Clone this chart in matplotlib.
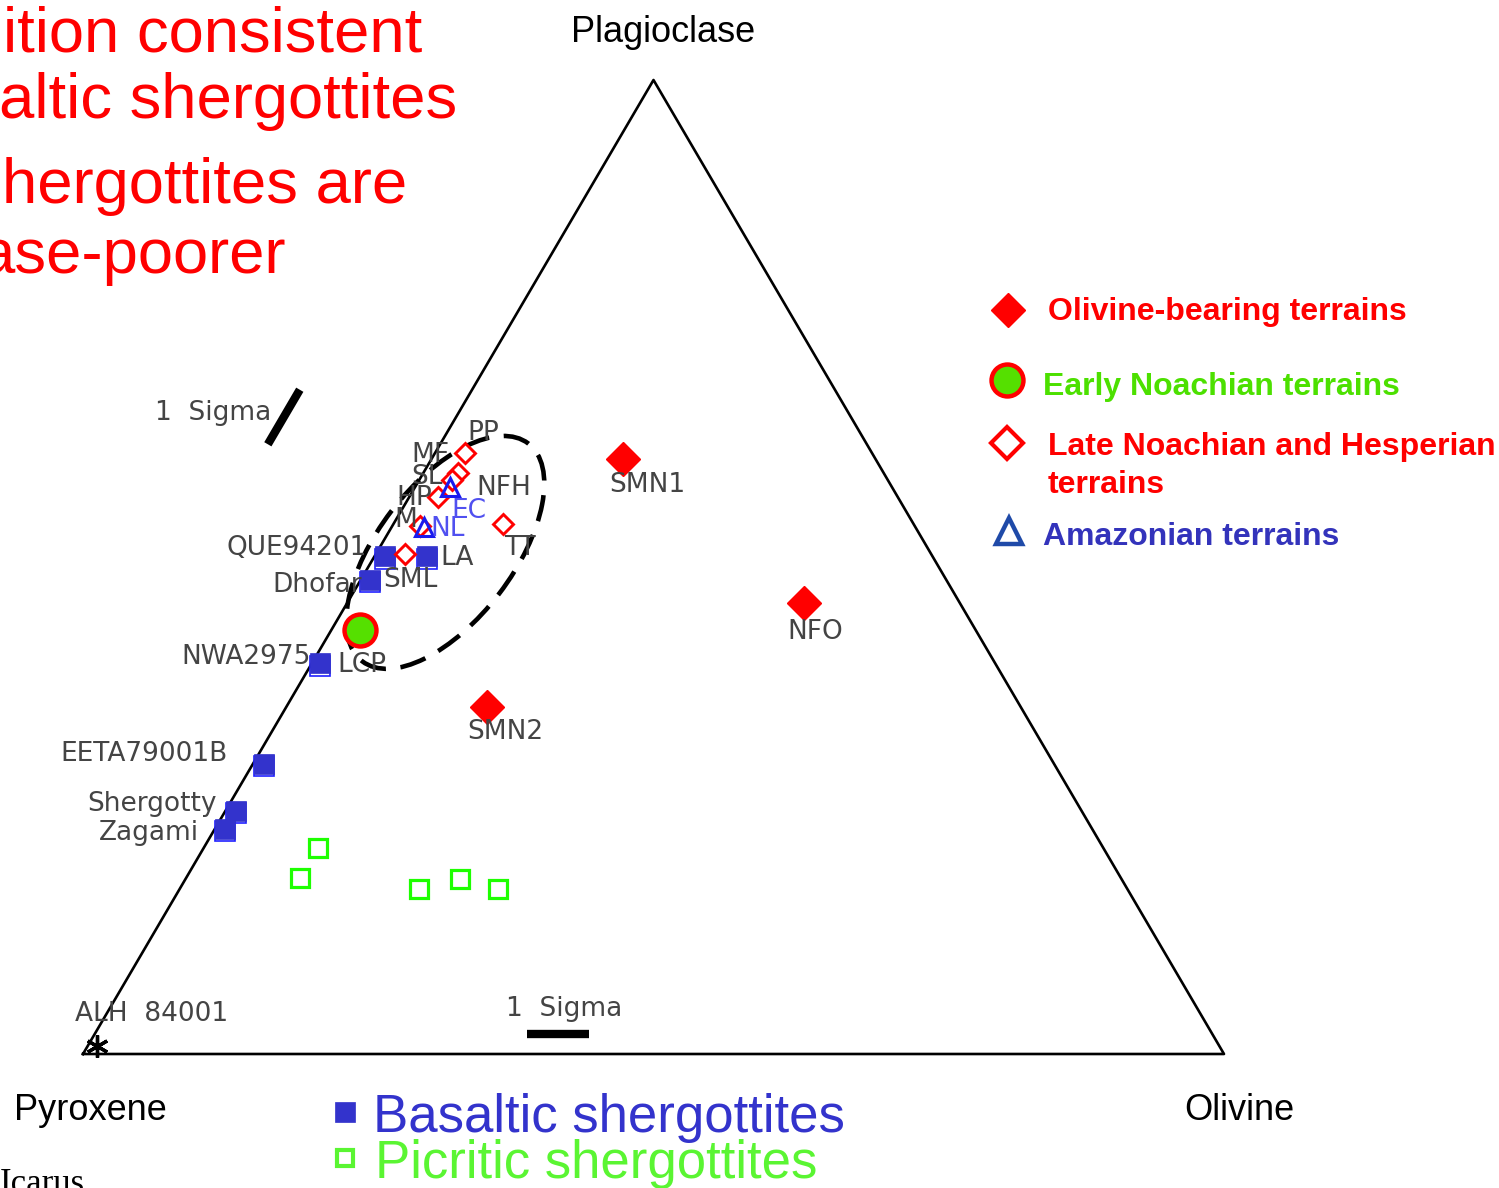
import numpy as np
import matplotlib.pyplot as plt
from matplotlib.lines import Line2D
from matplotlib.patches import Ellipse

W, H = 1499, 1188
TRI_H = 974 / 1141  # height of the drawn triangle relative to its base

# modal mineralogy as fractions of plagioclase and olivine (pyroxene = the rest)
basaltic_names = ['QUE94201', 'LA', 'Dhofar', 'NWA2975', 'EETA79001B', 'Shergotty', 'Zagami']
basaltic_pl = [0.511, 0.511, 0.487, 0.401, 0.298, 0.250, 0.231]
basaltic_ol = [0.009, 0.046, 0.008, 0.007, 0.010, 0.009, 0.009]

picritic_pl = [0.212, 0.181, 0.169, 0.180, 0.169]
picritic_ol = [0.100, 0.100, 0.210, 0.240, 0.279]

olivine_names = ['SMN1', 'NFO', 'SMN2']
olivine_pl = [0.611, 0.463, 0.356]
olivine_ol = [0.168, 0.400, 0.176]

early_pl = [0.435]
early_ol = [0.025]

late_names = ['PP', 'MF', 'SL', 'HP', 'M', 'SML', 'TT']
late_pl = [0.617, 0.597, 0.589, 0.572, 0.542, 0.513, 0.544]
late_ol = [0.026, 0.030, 0.029, 0.025, 0.024, 0.026, 0.096]

amazon_names = ['EC', 'NL']
amazon_pl = [0.582, 0.541]
amazon_ol = [0.031, 0.028]

alh_pl = [0.008]
alh_ol = [0.008]

# one-sigma uncertainty along the plagioclase and olivine directions
sigma_pl = 0.056
sigma_ol = 0.054

# spread of the terrain compositions
ell_pl, ell_ol = 0.515, 0.060
ell_major, ell_minor, ell_tilt = 0.240, 0.119, 52.7

# statement lines at the top left (the slide crops them on the left)
head_lines = ['ition consistent', 'altic shergottites', 'hergottites are', 'ase-poorer']


def tern(pl, ol):
    pl = np.asarray(pl, float)
    ol = np.asarray(ol, float)
    return ol + 0.5 * pl, pl * TRI_H


fig = plt.figure(figsize=(W / 100, H / 100), dpi=100)
ax = fig.add_axes([83 / W, (H - 1054) / H, 1141 / W, 974 / H])
ax.set_xlim(0, 1)
ax.set_ylim(0, TRI_H)
ax.axis('off')


def ftext(x, y, s, **kw):
    fig.text(x / W, 1 - y / H, s, **kw)


def fmark(x, y, **kw):
    fig.add_artist(Line2D([x / W], [1 - y / H], transform=fig.transFigure, **kw))


# triangle
cx, cy = tern([0, 0, 1, 0], [0, 1, 0, 0])
ax.plot(cx, cy, color='black', lw=1.9, clip_on=False, zorder=2)

# dashed envelope of the terrain points
ex, ey = tern(ell_pl, ell_ol)
ax.add_patch(Ellipse((ex, ey), ell_major, ell_minor, angle=ell_tilt, fill=False,
                     ec='black', lw=3.3, ls=(0, (5.8, 3.2)), zorder=3, clip_on=False))

# one-sigma bars
sx, sy = tern([0.626, 0.626 + sigma_pl], [-0.151, -0.151])
ax.plot(sx, sy, color='black', lw=6, solid_capstyle='butt', clip_on=False)
sx, sy = tern([0.0205, 0.0205], [0.379, 0.379 + sigma_ol])
ax.plot(sx, sy, color='black', lw=6, solid_capstyle='butt', clip_on=False)

# picritic shergottites
x, y = tern(picritic_pl, picritic_ol)
ax.plot(x, y, 's', ms=13, mfc='none', mec='#1EFF00', mew=2.3, ls='none', zorder=4)

# basaltic shergottites
x, y = tern(basaltic_pl, basaltic_ol)
ax.plot(x, y - 0.002, 's', ms=15, mfc='none', mec='#2020FF', mew=1.2, ls='none', zorder=4)
ax.plot(x, y, 's', ms=15, mfc='#3333CC', mec='#3333CC', mew=0.5, ls='none', zorder=5)

# ALH 84001
x, y = tern(alh_pl, alh_ol)
ax.plot(x, y, marker=(6, 2, 0), ms=16, mec='black', mew=2.4, ls='none', zorder=5, clip_on=False)

# late Noachian / Hesperian terrains
x, y = tern(late_pl, late_ol)
ax.plot(x, y, 'D', ms=10, mfc='white', mec='#FF0000', mew=2.1, ls='none', zorder=6)

# Amazonian terrains
x, y = tern(amazon_pl, amazon_ol)
ax.plot(x, y, '^', ms=13, mfc='none', mec='#1A1AEE', mew=2.2, ls='none', zorder=7)

# early Noachian terrains
x, y = tern(early_pl, early_ol)
ax.plot(x, y, 'o', ms=23, mfc='#55E000', mec='#FF0000', mew=3.2, ls='none', zorder=6)

# olivine-bearing terrains
x, y = tern(olivine_pl, olivine_ol)
ax.plot(x, y, 'D', ms=17, mfc='#FF0000', mec='#FF0000', mew=1, ls='none', zorder=6)

# point labels
lab = dict(fontsize=19, color='#444444', family='DejaVu Sans', va='center', zorder=8)
blue_lab = dict(lab, color='#5050F0')
for s, xp, yp, ha in [('PP', 467, 433, 'left'), ('MF', 411, 455, 'left'),
                      ('SL', 411, 477, 'left'), ('HP', 396, 498, 'left'),
                      ('M', 394, 520, 'left'), ('NFH', 476, 488, 'left'),
                      ('TT', 504, 548, 'left'), ('LA', 440, 558, 'left'),
                      ('SML', 383, 580, 'left'), ('LCP', 337, 665, 'left'),
                      ('QUE94201', 367, 548, 'right'), ('Dhofar', 362, 585, 'right'),
                      ('NWA2975', 311, 657, 'right'), ('SMN1', 609, 485, 'left'),
                      ('NFO', 787, 632, 'left'), ('SMN2', 467, 732, 'left'),
                      ('EETA79001B', 228, 754, 'right'), ('Shergotty', 217, 804, 'right'),
                      ('Zagami', 199, 833, 'right'), ('ALH  84001', 75, 1014, 'left'),
                      ('1  Sigma', 155, 413, 'left'), ('1  Sigma', 506, 1009, 'left')]:
    ftext(xp, yp, s, ha=ha, **lab)
ftext(451, 511, 'EC', ha='left', **blue_lab)
ftext(430, 529, 'NL', ha='left', **blue_lab)

# apex names
apex = dict(fontsize=26, color='black', family='Liberation Sans', va='baseline')
ftext(663, 42, 'Plagioclase', ha='center', **apex)
ftext(90, 1120, 'Pyroxene', ha='center', **apex)
ftext(1239, 1120, 'Olivine', ha='center', **apex)

# statement text at the top left
head = dict(fontsize=45.6, color='#FF0000', family='Liberation Sans', va='baseline', ha='right')
for s, xr, yb in zip(head_lines, [422, 457, 407, 286], [51, 118, 203, 273]):
    ftext(xr, yb, s, **head)

# terrain legend
leg = dict(fontsize=23, fontweight='bold', family='Liberation Sans', va='baseline')
fmark(1008, 310, marker='D', ms=17, mfc='#FF0000', mec='#FF0000', mew=1)
ftext(1048, 320, 'Olivine-bearing terrains', color='#FF0000', **leg)
fmark(1007, 380, marker='o', ms=23, mfc='#55E000', mec='#FF0000', mew=3.2)
ftext(1043, 395, 'Early Noachian terrains', color='#4CE000', **leg)
fmark(1007, 443, marker='D', ms=16, mfc='white', mec='#FF0000', mew=3)
ftext(1048, 455, 'Late Noachian and Hesperian', color='#FF0000', **leg)
ftext(1048, 493, 'terrains', color='#FF0000', **leg)
fmark(1009, 531, marker='^', ms=19, mfc='white', mec='#1F4AA8', mew=3.2)
ftext(1043, 545, 'Amazonian terrains', color='#3333BB', **leg)

# meteorite legend
big = dict(fontsize=38, family='Liberation Sans', va='baseline')
fmark(345, 1112, marker='s', ms=15, mfc='#3333CC', mec='#3333CC', mew=0.5)
ftext(373, 1132, 'Basaltic shergottites', color='#3333CC', **big)
fmark(345, 1158, marker='s', ms=12, mfc='white', mec='#5AF532', mew=3)
ftext(375, 1178, 'Picritic shergottites', color='#5AF532', **big)

ftext(0, 1193, 'Icarus', fontsize=25, family='Liberation Serif', color='black', va='baseline')

fig.savefig('out.png', dpi=100)
